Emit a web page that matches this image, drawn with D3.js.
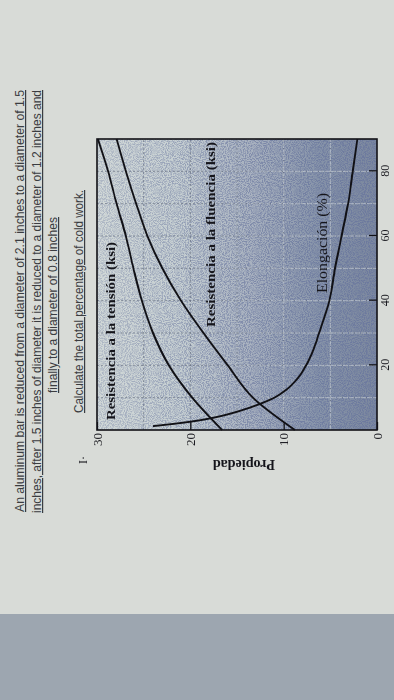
<!DOCTYPE html>
<html>
<head>
<meta charset="utf-8">
<script src="https://cdn.jsdelivr.net/npm/d3@7"></script>
<style>
  html, body { margin: 0; padding: 0; background: #d8dbd7; }
  svg { display: block; }
  .intro { font-family: "Liberation Sans", Arial, sans-serif; font-size: 12px; fill: #3b3c40; }
  .intro .u { text-decoration: underline; text-decoration-color: #b0504a; }
  .tick text { font-family: "Liberation Serif", "Times New Roman", serif; font-size: 13px; fill: #1c1c22; }
  .xax .tick text { font-size: 12px; }
  .lbl { font-family: "Liberation Serif", "Times New Roman", serif; fill: #15151b; }
</style>
</head>
<body>
<div id="chart"></div>
<script>
// values (x = % trabajo en frio, y = propiedad)
var coldWork = [0, 10, 20, 30, 40, 50, 60, 70, 80, 90];
var tensile = [16.6, 19.8, 22.3, 24.0, 25.2, 26.1, 26.9, 27.9, 28.8, 29.9];
var yieldStr = [8.8, 13.3, 16.0, 18.6, 21.0, 23.0, 24.6, 25.8, 26.9, 27.9];
var elongCW = [1.2, 2, 3, 4, 6, 8, 10, 12.5, 16, 20, 25, 30, 40, 50, 60, 70, 80, 90];
var elong = [24.0, 21.5, 19.0, 17.2, 14.6, 12.6, 11.0, 9.7, 8.5, 7.6, 6.8, 6.2, 5.1, 4.5, 3.8, 3.1, 2.6, 2.1];
var cwTicks = [20, 40, 60, 80];
var propTicks = [0, 10, 20, 30];
var cwGrid = [10, 20, 30, 40, 50, 60, 70, 80];
var propGrid = [5, 10, 15, 20, 25];

var introLines = [
  "An aluminum bar is reduced from a diameter of 2.1 inches to a diameter of 1.5",
  "inches, after 1.5 inches of diameter it is reduced to a diameter of 1.2 inches and",
  "finally to a diameter of 0.8 inches",
  "Calculate the total percentage of cold work."
];

var svg = d3.select("#chart")
  .append("svg")
  .attr("width", 394)
  .attr("height", 700);

var defs = svg.append("defs");

// plot shading: light on the high-value side, dark stipple toward zero
var grad = defs.append("linearGradient")
  .attr("id", "shade")
  .attr("x1", 0).attr("y1", 0).attr("x2", 0).attr("y2", 1);
[[0, "#d2d9d8"], [0.3, "#c6cfd2"], [0.55, "#a9b2c0"], [0.8, "#8794a9"], [1, "#7c889e"]]
  .forEach(function (s) {
    grad.append("stop").attr("offset", s[0]).attr("stop-color", s[1]);
  });

var mgrad = defs.append("linearGradient")
  .attr("id", "mgrad")
  .attr("x1", 0).attr("y1", 0).attr("x2", 0).attr("y2", 1);
mgrad.append("stop").attr("offset", 0).attr("stop-color", "#666");
mgrad.append("stop").attr("offset", 0.5).attr("stop-color", "#bbb");
mgrad.append("stop").attr("offset", 1).attr("stop-color", "#fff");

var lgrad = defs.append("linearGradient")
  .attr("id", "lgrad")
  .attr("x1", 0).attr("y1", 0).attr("x2", 0).attr("y2", 1);
lgrad.append("stop").attr("offset", 0.35).attr("stop-color", "#000");
lgrad.append("stop").attr("offset", 0.75).attr("stop-color", "#fff");

var grain = defs.append("filter")
  .attr("id", "grain")
  .attr("x", 0).attr("y", 0).attr("width", 1).attr("height", 1);
grain.append("feTurbulence")
  .attr("type", "fractalNoise")
  .attr("baseFrequency", 0.95)
  .attr("numOctaves", 2)
  .attr("seed", 4);
grain.append("feColorMatrix")
  .attr("type", "matrix")
  .attr("values", "0 0 0 0 0.14  0 0 0 0 0.18  0 0 0 0 0.34  3.6 0 0 0 -1.4");

// paper edge at the bottom of the photo
svg.append("rect")
  .attr("x", 0).attr("y", 614)
  .attr("width", 394).attr("height", 86)
  .attr("fill", "#9da6b0");

// question text, rotated like the photo (reads bottom to top)
var intro = svg.append("g").attr("class", "intro").attr("transform", "rotate(-90)");
var introPos = [
  { start: 512, end: 90, base: 24 },
  { start: 513, end: 90, base: 41 },
  { start: 393, end: 217, base: 57 },
  { start: 413, end: 190, base: 83 }
];
introLines.forEach(function (line, i) {
  var p = introPos[i];
  intro.append("text")
    .attr("x", -p.start)
    .attr("y", p.base)
    .attr("textLength", p.start - p.end)
    .attr("lengthAdjust", "spacingAndGlyphs")
    .attr("class", "u")
    .text(line);
});

// chart drawn in its own frame, then turned a quarter left
var W = 291, H = 280;
var g = svg.append("g").attr("transform", "translate(97,430) rotate(-90)");

var x = d3.scaleLinear().domain([0, 90]).range([0, W]);
var y = d3.scaleLinear().domain([0, 30]).range([H, 0]);

g.append("rect")
  .attr("width", W).attr("height", H)
  .attr("fill", "url(#shade)");

var mask = defs.append("mask").attr("id", "gmask");
mask.append("rect").attr("width", W).attr("height", H).attr("fill", "url(#mgrad)");
var lmask = defs.append("mask").attr("id", "lmask");
lmask.append("rect").attr("width", W).attr("height", H).attr("fill", "url(#lgrad)");

g.append("rect")
  .attr("width", W).attr("height", H)
  .attr("filter", "url(#grain)")
  .attr("mask", "url(#gmask)")
  .attr("opacity", 0.85);

// dotted grid: grey dots on the light side, pale lines on the dark side
function drawGrid(parent, colour, dash, opacity) {
  parent.selectAll(".gx").data(cwGrid).enter()
    .append("line")
    .attr("class", "gx")
    .attr("x1", function (d) { return x(d); })
    .attr("x2", function (d) { return x(d); })
    .attr("y1", 0).attr("y2", H)
    .attr("stroke", colour)
    .attr("stroke-width", 1)
    .attr("stroke-dasharray", dash)
    .attr("opacity", opacity);

  parent.selectAll(".gy").data(propGrid).enter()
    .append("line")
    .attr("class", "gy")
    .attr("y1", function (d) { return y(d); })
    .attr("y2", function (d) { return y(d); })
    .attr("x1", 0).attr("x2", W)
    .attr("stroke", colour)
    .attr("stroke-width", 1)
    .attr("stroke-dasharray", dash)
    .attr("opacity", opacity);
}
drawGrid(g.append("g"), "#5f6878", "2,2", 0.6);
drawGrid(g.append("g").attr("mask", "url(#lmask)"), "#dde3e8", "5,1", 0.55);

// curves
var line = d3.line()
  .x(function (d) { return x(d[0]); })
  .y(function (d) { return y(d[1]); })
  .curve(d3.curveMonotoneX);

var series = [
  d3.zip(coldWork, tensile),
  d3.zip(coldWork, yieldStr),
  d3.zip(elongCW, elong)
];

g.selectAll(".curve").data(series).enter()
  .append("path")
  .attr("class", "curve")
  .attr("d", line)
  .attr("fill", "none")
  .attr("stroke", "#111116")
  .attr("stroke-width", 1.9);

// frame
g.append("rect")
  .attr("width", W).attr("height", H)
  .attr("fill", "none")
  .attr("stroke", "#111116")
  .attr("stroke-width", 1.6);

// axes with inward ticks
var yAxis = g.append("g")
  .call(d3.axisLeft(y).tickValues(propTicks).tickSize(-8).tickPadding(3).tickFormat(d3.format("d")));
var xAxis = g.append("g")
  .attr("class", "xax")
  .attr("transform", "translate(0," + H + ")")
  .call(d3.axisBottom(x).tickValues(cwTicks).tickSize(-8).tickPadding(3).tickFormat(d3.format("d")));
[yAxis, xAxis].forEach(function (a) {
  a.select(".domain").remove();
  a.selectAll(".tick line").attr("stroke", "#111116").attr("stroke-width", 1.3);
});

// labels on the curves
var labels = [
  { text: "Resistencia a la tensión (ksi)", u0: 10, len: 178, v: 18, size: 13, weight: "bold" },
  { text: "Resistencia a la fluencia (ksi)", u0: 103, len: 185, v: 118, size: 13, weight: "bold" },
  { text: "Elongación (%)", u0: 137, len: 100, v: 230, size: 14, weight: "normal" }
];
g.selectAll(".clbl").data(labels).enter()
  .append("text")
  .attr("class", "lbl")
  .attr("x", function (d) { return d.u0; })
  .attr("y", function (d) { return d.v; })
  .attr("textLength", function (d) { return d.len; })
  .attr("lengthAdjust", "spacingAndGlyphs")
  .style("font-size", function (d) { return d.size + "px"; })
  .style("font-weight", function (d) { return d.weight; })
  .text(function (d) { return d.text; });

// axis title
g.append("text")
  .attr("class", "lbl")
  .attr("transform", "translate(-30," + (H / 2 + 7) + ") rotate(-90)")
  .attr("text-anchor", "middle")
  .style("font-size", "14px")
  .style("font-weight", "bold")
  .text("Propiedad");

g.append("text")
  .attr("class", "lbl")
  .attr("x", -34).attr("y", -10)
  .style("font-size", "12px")
  .text("I·");
</script>
</body>
</html>
